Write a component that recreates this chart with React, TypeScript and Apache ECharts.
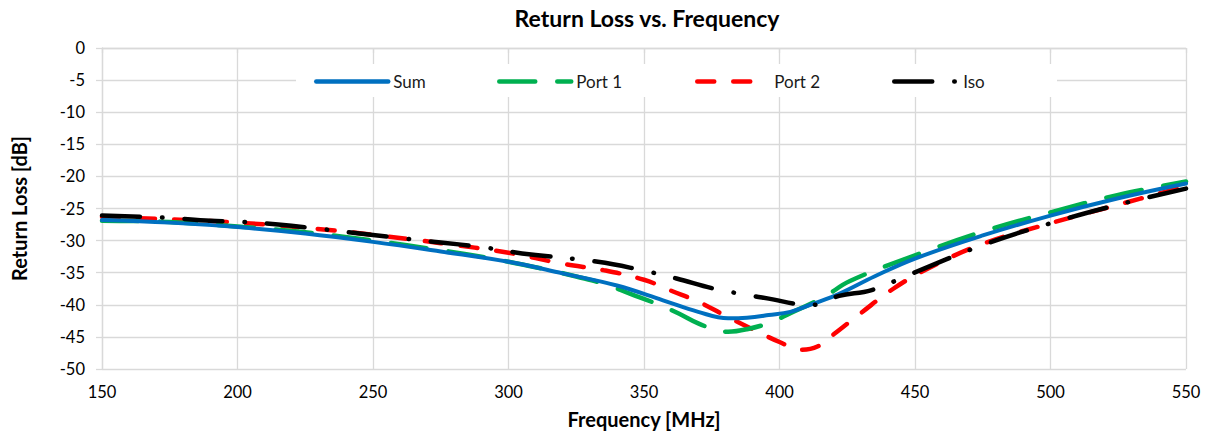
import React, { useEffect, useRef } from "react";
import * as echarts from "echarts";

const xTicks = [150, 200, 250, 300, 350, 400, 450, 500, 550];

const sumFreq = [150, 175, 200, 225, 250, 275, 300, 320, 340, 357, 370, 381, 388, 396, 404, 412, 422, 435, 450, 475, 500, 525, 550];
const sumVal = [-26.8, -27.2, -27.9, -28.9, -30.2, -31.7, -33.3, -35.1, -37.0, -39.3, -41.1, -42.1, -42.0, -41.6, -41.1, -39.9, -38.3, -35.6, -32.8, -29.2, -26.1, -23.4, -21.1];

const port1Freq = [150, 175, 200, 225, 250, 275, 290, 300, 315, 325, 335, 345, 355, 363, 370, 376, 381, 388, 397, 404, 416, 426, 450, 475, 500, 525, 550];
const port1Val = [-26.9, -27.1, -27.8, -28.7, -30.0, -31.5, -32.5, -33.3, -34.6, -35.6, -36.7, -38.3, -39.9, -41.4, -42.9, -43.8, -44.2, -43.8, -42.7, -41.3, -38.9, -36.3, -32.3, -28.6, -25.6, -22.9, -20.8];

const port2Freq = [150, 175, 200, 225, 250, 275, 300, 320, 335, 350, 360, 370, 380, 390, 400, 408, 414, 420, 430, 442, 455, 475, 500, 525, 550];
const port2Val = [-26.3, -26.7, -27.2, -28.0, -29.1, -30.4, -31.9, -33.6, -34.6, -36.1, -37.8, -39.5, -41.7, -43.8, -45.8, -47.0, -46.5, -44.6, -41.3, -37.5, -34.3, -30.5, -27.3, -24.4, -21.5];

const isoFreq = [150, 172, 190, 202, 215, 231, 245, 260, 275, 290, 305, 333, 348, 362, 376, 390, 398, 405, 411, 416, 422, 434, 448, 475, 500, 525, 550];
const isoVal = [-26.1, -26.4, -26.9, -27.1, -27.5, -28.2, -28.9, -29.6, -30.3, -31.0, -32.0, -33.3, -34.5, -35.9, -37.5, -38.6, -39.2, -39.8, -40.1, -39.6, -38.6, -37.7, -35.3, -30.7, -27.3, -24.4, -21.9];

const FONT = "Lato";

function pairs(xs: number[], ys: number[]) {
  return xs.map((x, i) => [x, ys[i]]);
}

export default function App() {
  const ref = useRef<HTMLDivElement>(null);
  useEffect(() => {
    if (!ref.current) return;
    const chart = echarts.init(ref.current, undefined, { renderer: "svg" });
    const legendText = { fontFamily: FONT, fontSize: 17, color: "#1a1a1a" };
    const mkLegend = (name: string, left: number, w: number) => ({
      data: [name],
      left,
      top: 73,
      itemWidth: w,
      itemHeight: 14,
      itemGap: 6,
      textStyle: legendText,
      padding: 0,
      itemStyle: { opacity: 0 },
      lineStyle: { width: 4.5, cap: "round" },
    });
    chart.setOption({
      animation: false,
      backgroundColor: "#ffffff",
      title: {
        text: "Return Loss vs. Frequency",
        left: 642,
        textAlign: "center",
        top: 1,
        textStyle: { fontFamily: FONT, fontSize: 23, fontWeight: "bold", color: "#000" },
      },
      grid: { left: 102, right: 19, top: 48, bottom: 69, containLabel: false },
      graphic: [
        {
          type: "rect",
          z: 3,
          shape: { x: 296, y: 64, width: 761, height: 33 },
          style: { fill: "#ffffff" },
        },
      ],
      legend: [
        mkLegend("Sum", 314, 72),
        mkLegend("Port 1", 497, 72),
        mkLegend("Port 2", 695, 72),
        mkLegend("Iso", 892, 64),
      ],
      xAxis: {
        type: "value",
        min: 150,
        max: 550,
        interval: 50,
        name: "Frequency [MHz]",
        nameLocation: "middle",
        nameGap: 40,
        nameTextStyle: { fontFamily: FONT, fontSize: 20, fontWeight: "bold", color: "#000" },
        axisLine: { show: true, lineStyle: { color: "#d9d9d9", width: 1.3 } },
        axisTick: { show: true, length: 5, lineStyle: { color: "#d9d9d9", width: 1.3 } },
        axisLabel: {
          margin: 14,
          fontFamily: FONT,
          fontSize: 16.5,
          color: "#000",
          formatter: (v: number) => (xTicks.includes(v) ? String(v) : ""),
        },
        splitLine: { show: true, lineStyle: { color: "#d9d9d9", width: 1.3 } },
      },
      yAxis: {
        type: "value",
        min: -50,
        max: 0,
        interval: 5,
        name: "Return Loss [dB]",
        nameLocation: "middle",
        nameGap: 73,
        nameRotate: 90,
        nameTextStyle: { fontFamily: FONT, fontSize: 20, fontWeight: "bold", color: "#000" },
        axisLine: { show: true, lineStyle: { color: "#d9d9d9", width: 1.3 } },
        axisTick: { show: true, length: 6, lineStyle: { color: "#d9d9d9", width: 1.3 } },
        axisLabel: { margin: 17, fontFamily: FONT, fontSize: 16.5, color: "#000" },
        splitLine: { show: true, lineStyle: { color: "#d9d9d9", width: 1.3 } },
      },
      series: [
        {
          name: "Sum",
          type: "line",
          data: pairs(sumFreq, sumVal),
          showSymbol: false,
          symbol: "none",
          smooth: 0.4,
          z: 5,
          lineStyle: { color: "#0070C0", width: 4, cap: "round", join: "round" },
          itemStyle: { color: "#0070C0" },
        },
        {
          name: "Port 1",
          type: "line",
          data: pairs(port1Freq, port1Val),
          showSymbol: false,
          symbol: "none",
          smooth: 0.4,
          z: 4,
          lineStyle: { color: "#00B050", width: 4.5, type: [36, 22], cap: "round", join: "round" },
          itemStyle: { color: "#00B050" },
        },
        {
          name: "Port 2",
          type: "line",
          data: pairs(port2Freq, port2Val),
          showSymbol: false,
          symbol: "none",
          smooth: 0.4,
          z: 3,
          lineStyle: { color: "#FF0000", width: 4.5, type: [17, 19], cap: "round", join: "round" },
          itemStyle: { color: "#FF0000" },
        },
        {
          name: "Iso",
          type: "line",
          data: pairs(isoFreq, isoVal),
          showSymbol: false,
          symbol: "none",
          smooth: 0.4,
          z: 6,
          lineStyle: { color: "#000000", width: 4.5, type: [38, 22, 0.5, 22], cap: "round", join: "round" },
          itemStyle: { color: "#000000" },
        },
      ],
    });
    return () => chart.dispose();
  }, []);
  return (
    <div
      ref={ref}
      style={{ position: "absolute", left: 0, top: 0, width: 1205, height: 438 }}
    />
  );
}
